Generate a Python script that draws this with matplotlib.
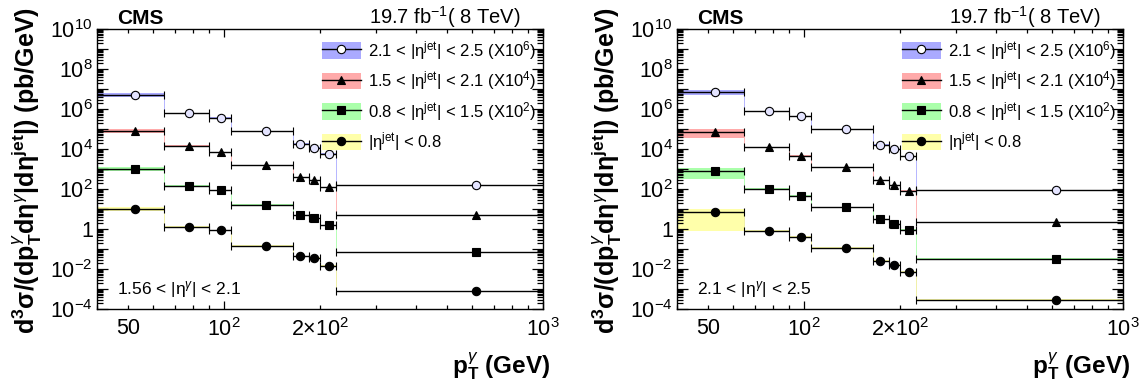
import numpy as np
import matplotlib
matplotlib.use('Agg')
import matplotlib.pyplot as plt
from matplotlib.patches import Patch
from matplotlib.lines import Line2D
from matplotlib.ticker import FixedLocator, FuncFormatter

plt.rcParams['font.family'] = ['Liberation Sans', 'DejaVu Sans']
plt.rcParams['mathtext.fontset'] = 'custom'
plt.rcParams['mathtext.rm'] = 'Liberation Sans'
plt.rcParams['mathtext.it'] = 'Liberation Sans:italic'
plt.rcParams['mathtext.bf'] = 'Liberation Sans:bold'

# pT bins (GeV) and marker positions
edges = [40, 65, 90, 105, 165, 185, 200, 225, 1000]
pt_points = [52.6, 77.7, 97.9, 135, 173.5, 191.4, 214, 615]

# 1.56 < |eta_gamma| < 2.1 (already scaled by the factors in the legend)
left_eta25 = [5.0e6, 6.3e5, 3.7e5, 7.9e4, 1.9e4, 1.17e4, 6.0e3, 163]
left_eta21 = [8.3e4, 1.5e4, 7.3e3, 1.6e3, 400, 282, 126, 5.0]
left_eta15 = [1040, 147, 89, 17, 5.0, 3.5, 1.6, 0.073]
left_eta08 = [10.7, 1.35, 0.89, 0.15, 0.045, 0.037, 0.015, 7.9e-4]

# 2.1 < |eta_gamma| < 2.5
right_eta25 = [7.1e6, 8.2e5, 4.6e5, 1.0e5, 1.7e4, 1.0e4, 4.6e3, 89]
right_eta21 = [7.3e4, 1.25e4, 4.8e3, 1.3e3, 280, 163, 83, 2.2]
right_eta15 = [870, 107, 48, 13, 3.2, 1.8, 0.93, 0.034]
right_eta08 = [7.1, 0.85, 0.41, 0.117, 0.027, 0.0165, 0.0076, 3.0e-4]

# relative systematic uncertainty (up, down), one list per series
left_unc_up = [[0.25, 0.06, 0.06, 0.06, 0.06, 0.06, 0.06, 0.06],
               [0.25, 0.06, 0.06, 0.06, 0.06, 0.06, 0.06, 0.06],
               [0.25, 0.06, 0.06, 0.06, 0.06, 0.06, 0.06, 0.06],
               [0.25, 0.06, 0.06, 0.06, 0.06, 0.06, 0.06, 0.06]]
left_unc_dn = [[0.2, 0.06, 0.06, 0.06, 0.06, 0.06, 0.06, 0.06],
               [0.2, 0.06, 0.06, 0.06, 0.06, 0.06, 0.06, 0.06],
               [0.2, 0.06, 0.06, 0.06, 0.06, 0.06, 0.06, 0.06],
               [0.2, 0.06, 0.06, 0.06, 0.06, 0.06, 0.06, 0.06]]
right_unc_up = [[0.3, 0.06, 0.06, 0.06, 0.06, 0.06, 0.06, 0.06],
                [0.35, 0.06, 0.12, 0.06, 0.06, 0.06, 0.06, 0.06],
                [0.3, 0.06, 0.12, 0.06, 0.06, 0.06, 0.06, 0.06],
                [0.4, 0.06, 0.15, 0.06, 0.06, 0.06, 0.06, 0.06]]
right_unc_dn = [[0.3, 0.06, 0.06, 0.06, 0.06, 0.06, 0.06, 0.06],
                [0.5, 0.06, 0.12, 0.06, 0.06, 0.06, 0.06, 0.06],
                [0.62, 0.06, 0.12, 0.06, 0.06, 0.06, 0.06, 0.06],
                [0.89, 0.06, 0.15, 0.06, 0.06, 0.06, 0.06, 0.06]]

labels = ['2.1 < |η$^{\\rm jet}$| < 2.5 (X10$^{6}$)',
          '1.5 < |η$^{\\rm jet}$| < 2.1 (X10$^{4}$)',
          '0.8 < |η$^{\\rm jet}$| < 1.5 (X10$^{2}$)',
          '|η$^{\\rm jet}$| < 0.8']
band_colors = ['#aaaaff', '#ffaaaa', '#aaffaa', '#ffffaa']
line_colors = ['#aaaaff', '#ffaaaa', '#aaffaa', '#eeee99']
markers = ['o', '^', 's', 'o']
msizes = [6, 6, 6, 6]
mfaces = ['#e4e4ff', 'k', 'k', 'k']

eta_labels = ['1.56 < |η$^{\\gamma}$| < 2.1', '2.1 < |η$^{\\gamma}$| < 2.5']

fig = plt.figure(figsize=(11.4, 3.82), dpi=100)
ax1 = fig.add_axes([97/1140, 72.7/382, 446/1140, 280/382])
ax2 = fig.add_axes([677/1140, 72.7/382, 446/1140, 280/382])

panels = [(ax1, [left_eta25, left_eta21, left_eta15, left_eta08], left_unc_up, left_unc_dn, eta_labels[0], 27/1140),
          (ax2, [right_eta25, right_eta21, right_eta15, right_eta08], right_unc_up, right_unc_dn, eta_labels[1], 607/1140)]

e = np.array(edges, dtype=float)
xc = np.array(pt_points)
xerr = [xc - e[:-1], e[1:] - xc]


def ylab(v, pos):
    p = int(round(np.log10(v)))
    if p % 2:
        return ''
    if p == 0:
        return '1'
    return '$10^{%d}$' % p


def xlab(v, pos):
    d = {50: '50', 100: '$10^{2}$', 200: '2×$10^{2}$', 1000: '$10^{3}$'}
    return d.get(int(round(v)), '')


for ax, series, up, dn, etxt, ylx in panels:
    for i in range(4):
        v = np.array(series[i])
        hi = v * (1 + np.array(up[i]))
        lo = v * (1 - np.array(dn[i]))
        ax.fill_between(e, np.append(lo, lo[-1]), np.append(hi, hi[-1]), step='post',
                        color=band_colors[i], lw=0, zorder=1)
        ax.stairs(v, e, color=line_colors[i], lw=0.6, zorder=2)
        ax.errorbar(xc, v, xerr=xerr, fmt=markers[i], color='k', ms=msizes[i],
                    mfc=mfaces[i], mec='k', mew=0.8, elinewidth=1.0, capsize=3,
                    capthick=1.0, zorder=3)

    ax.set_xscale('log')
    ax.set_yscale('log')
    ax.set_xlim(40, 1000)
    ax.set_ylim(1e-4, 1e10)

    ax.yaxis.set_major_locator(FixedLocator([10.0**k for k in range(-4, 11)]))
    ax.yaxis.set_minor_locator(FixedLocator([m * 10.0**k for k in range(-4, 10) for m in range(2, 10)]))
    ax.yaxis.set_major_formatter(FuncFormatter(ylab))
    ax.xaxis.set_major_locator(FixedLocator([100, 1000]))
    ax.xaxis.set_minor_locator(FixedLocator([40, 50, 60, 70, 80, 90, 200, 300, 400, 500, 600, 700, 800, 900]))
    ax.xaxis.set_major_formatter(FuncFormatter(xlab))
    ax.xaxis.set_minor_formatter(FuncFormatter(xlab))

    ax.tick_params(which='both', direction='in', top=True, right=True, labelsize=15.5, width=0.9)
    ax.tick_params(axis='y', which='major', length=8, pad=3)
    ax.tick_params(axis='y', which='minor', length=4.5)
    ax.tick_params(axis='x', which='major', length=6, pad=6)
    ax.tick_params(axis='x', which='minor', length=3, pad=6, labelsize=15.5)
    for s in ax.spines.values():
        s.set_linewidth(1.0)

    ax.text(0.045, 1.02, 'CMS', transform=ax.transAxes, fontsize=15, fontweight='bold',
            ha='left', va='baseline')
    ax.text(0.95, 1.02, '19.7 fb$^{-1}$( 8 TeV)', transform=ax.transAxes, fontsize=14.5,
            ha='right', va='baseline')
    ax.text(0.045, 0.055, etxt, transform=ax.transAxes, fontsize=12.5, ha='left', va='baseline')
    ax.text(1.016, -0.205, 'p$_{\\mathbf{T}}^{\\gamma}$ (GeV)', transform=ax.transAxes,
            fontsize=17.5, fontweight='bold', ha='right', va='center')
    fig.text(ylx, 0.553, 'd$^{\\mathbf{3}}$σ/(dp$_{\\mathbf{T}}^{\\gamma}$dη$^{\\gamma}$|dη$^{\\mathbf{jet}}$|) (pb/GeV)',
             rotation=90, fontsize=18, fontweight='bold', ha='center', va='center')

    handles = [(Patch(facecolor=band_colors[i], edgecolor='none'),
                Line2D([], [], color='k', lw=1.0, marker=markers[i], ms=msizes[i],
                       mfc='white' if i == 0 else 'k', mec='k', mew=0.8))
               for i in range(4)]
    ax.legend(handles, labels, loc='upper left', bbox_to_anchor=(0.505, 0.965), frameon=False,
              fontsize=12, handlelength=2.3, handleheight=1.15, handletextpad=0.45,
              labelspacing=0.45, borderaxespad=0, borderpad=0)

fig.savefig('out.png', dpi=100)
